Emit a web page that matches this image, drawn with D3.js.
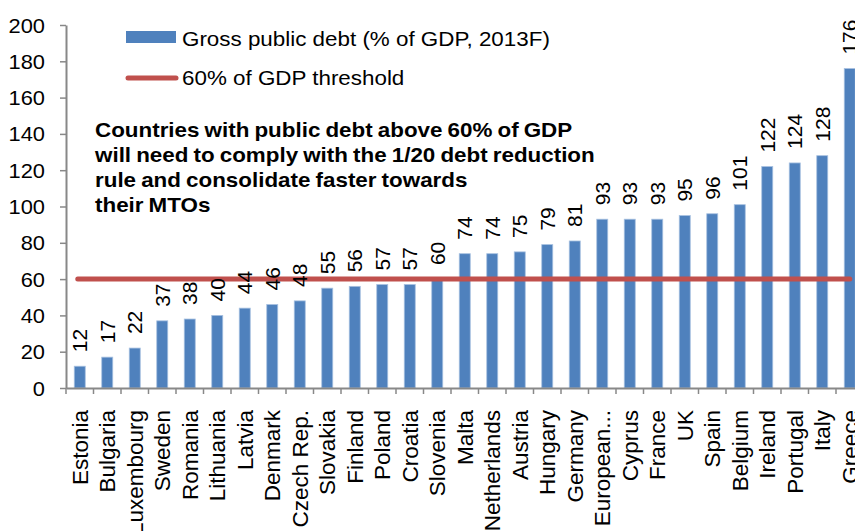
<!DOCTYPE html>
<html>
<head>
<meta charset="utf-8">
<script src="https://cdn.jsdelivr.net/npm/d3@7"></script>
<style>
  html, body { margin: 0; padding: 0; background: #ffffff; }
  svg { display: block; font-family: "Liberation Sans", Arial, sans-serif; }
</style>
</head>
<body>
<svg id="chart" width="855" height="531"></svg>
<script>
const categories = ["Estonia", "Bulgaria", "Luxembourg", "Sweden", "Romania", "Lithuania", "Latvia",
  "Denmark", "Czech Rep.", "Slovakia", "Finland", "Poland", "Croatia", "Slovenia", "Malta",
  "Netherlands", "Austria", "Hungary", "Germany", "European...", "Cyprus", "France", "UK",
  "Spain", "Belgium", "Ireland", "Portugal", "Italy", "Greece"];
const debtValues = [12, 17, 22, 37, 38, 40, 44, 46, 48, 55, 56, 57, 57, 60, 74, 74, 75, 79, 81,
  93, 93, 93, 95, 96, 101, 122, 124, 128, 176];
const thresholdValue = 60;
const yTickValues = [0, 20, 40, 60, 80, 100, 120, 140, 160, 180, 200];
const legendLabels = ["Gross public debt (% of GDP, 2013F)", "60% of GDP threshold"];
const noteLines = ["Countries with public debt above 60% of GDP",
  "will need to comply with the 1/20 debt reduction",
  "rule and consolidate faster towards",
  "their MTOs"];

const BLUE = "#4F81BD", RED = "#C0504D", AXIS = "#888888";
const SX = 1.12; // horizontal stretch of horizontal text in reference

const svg = d3.select("#chart");
const x0 = 66, step = 27.5;
const x = d3.scaleBand().domain(categories)
  .range([x0, x0 + step * categories.length])
  .paddingInner(0.6).paddingOuter(0.3);
const y = d3.scaleLinear().domain([0, 200]).range([388, 25]);

// bars
svg.append("g").selectAll("rect").data(debtValues).join("rect")
  .attr("x", (d, i) => x(categories[i]))
  .attr("y", d => y(d))
  .attr("width", x.bandwidth())
  .attr("height", d => y(0) - y(d))
  .attr("fill", BLUE)
  .attr("stroke", "#A7C0E0").attr("stroke-width", 0.8);

// threshold line
const cx = c => x(c) + x.bandwidth() / 2;
svg.append("line")
  .attr("x1", cx(categories[0]) - 2).attr("x2", cx(categories[categories.length - 1]))
  .attr("y1", y(thresholdValue)).attr("y2", y(thresholdValue))
  .attr("stroke", RED).attr("stroke-width", 5).attr("stroke-linecap", "round");

// y axis
const yAxis = svg.append("g").attr("transform", `translate(${x0},0)`)
  .call(d3.axisLeft(y).tickValues(yTickValues).tickSizeInner(6).tickSizeOuter(0).tickFormat(d3.format("d")));
yAxis.select(".domain").attr("stroke", AXIS).attr("stroke-width", 2);
yAxis.selectAll(".tick line").attr("stroke", AXIS).attr("stroke-width", 1.5);
yAxis.selectAll(".tick text")
  .attr("x", -21 / SX).attr("dy", "0.36em")
  .attr("transform", `scale(${SX},1)`)
  .attr("font-size", 19.5).attr("fill", "#000")
  .attr("font-family", "Liberation Sans, Arial, sans-serif");

// x axis
const xAxis = svg.append("g").attr("transform", `translate(0,${y(0)})`)
  .call(d3.axisBottom(x).tickSize(0).tickPadding(0));
xAxis.select(".domain").attr("stroke", AXIS).attr("stroke-width", 2);
xAxis.selectAll(".tick text")
  .attr("text-anchor", "end")
  .attr("transform", "translate(0,22) rotate(-90)")
  .attr("x", 0).attr("y", 0).attr("dy", "0.36em")
  .attr("font-size", 22.5).attr("fill", "#000")
  .attr("font-family", "Liberation Sans, Arial, sans-serif");
// boundary ticks between categories
const boundaries = categories.map(c => x(c) + x.bandwidth() / 2 - x.step() / 2);
boundaries.push(x(categories[categories.length - 1]) + x.bandwidth() / 2 + x.step() / 2);
xAxis.append("g").selectAll("line").data(boundaries).join("line")
  .attr("x1", d => d).attr("x2", d => d).attr("y1", 0).attr("y2", 6)
  .attr("stroke", AXIS).attr("stroke-width", 1.5);

// value labels
svg.append("g").selectAll("text").data(debtValues).join("text")
  .attr("transform", (d, i) => `translate(${cx(categories[i])},${y(d) - 14}) rotate(-90)`)
  .attr("dy", "0.36em")
  .attr("font-size", 21)
  .attr("fill", "#000")
  .text(d => d);

// legend
const lg = svg.append("g");
lg.append("rect").attr("x", 126).attr("y", 31).attr("width", 50).attr("height", 12).attr("fill", BLUE);
lg.append("line").attr("x1", 128).attr("x2", 176).attr("y1", 78).attr("y2", 78)
  .attr("stroke", RED).attr("stroke-width", 5).attr("stroke-linecap", "round");
lg.selectAll("g.lt").data(legendLabels).join("g").attr("class", "lt")
  .attr("transform", (d, i) => `translate(182,${i === 0 ? 46 : 85}) scale(${SX},1)`)
  .append("text").attr("font-size", 20).attr("fill", "#000").text(d => d);

// annotation
svg.append("g").selectAll("g").data(noteLines).join("g")
  .attr("transform", (d, i) => `translate(95,${136.7 + i * 25}) scale(${SX},1)`)
  .append("text").attr("font-size", 20).attr("font-weight", "bold").attr("fill", "#000")
  .attr("word-spacing", "-1px")
  .text(d => d);
</script>
</body>
</html>
